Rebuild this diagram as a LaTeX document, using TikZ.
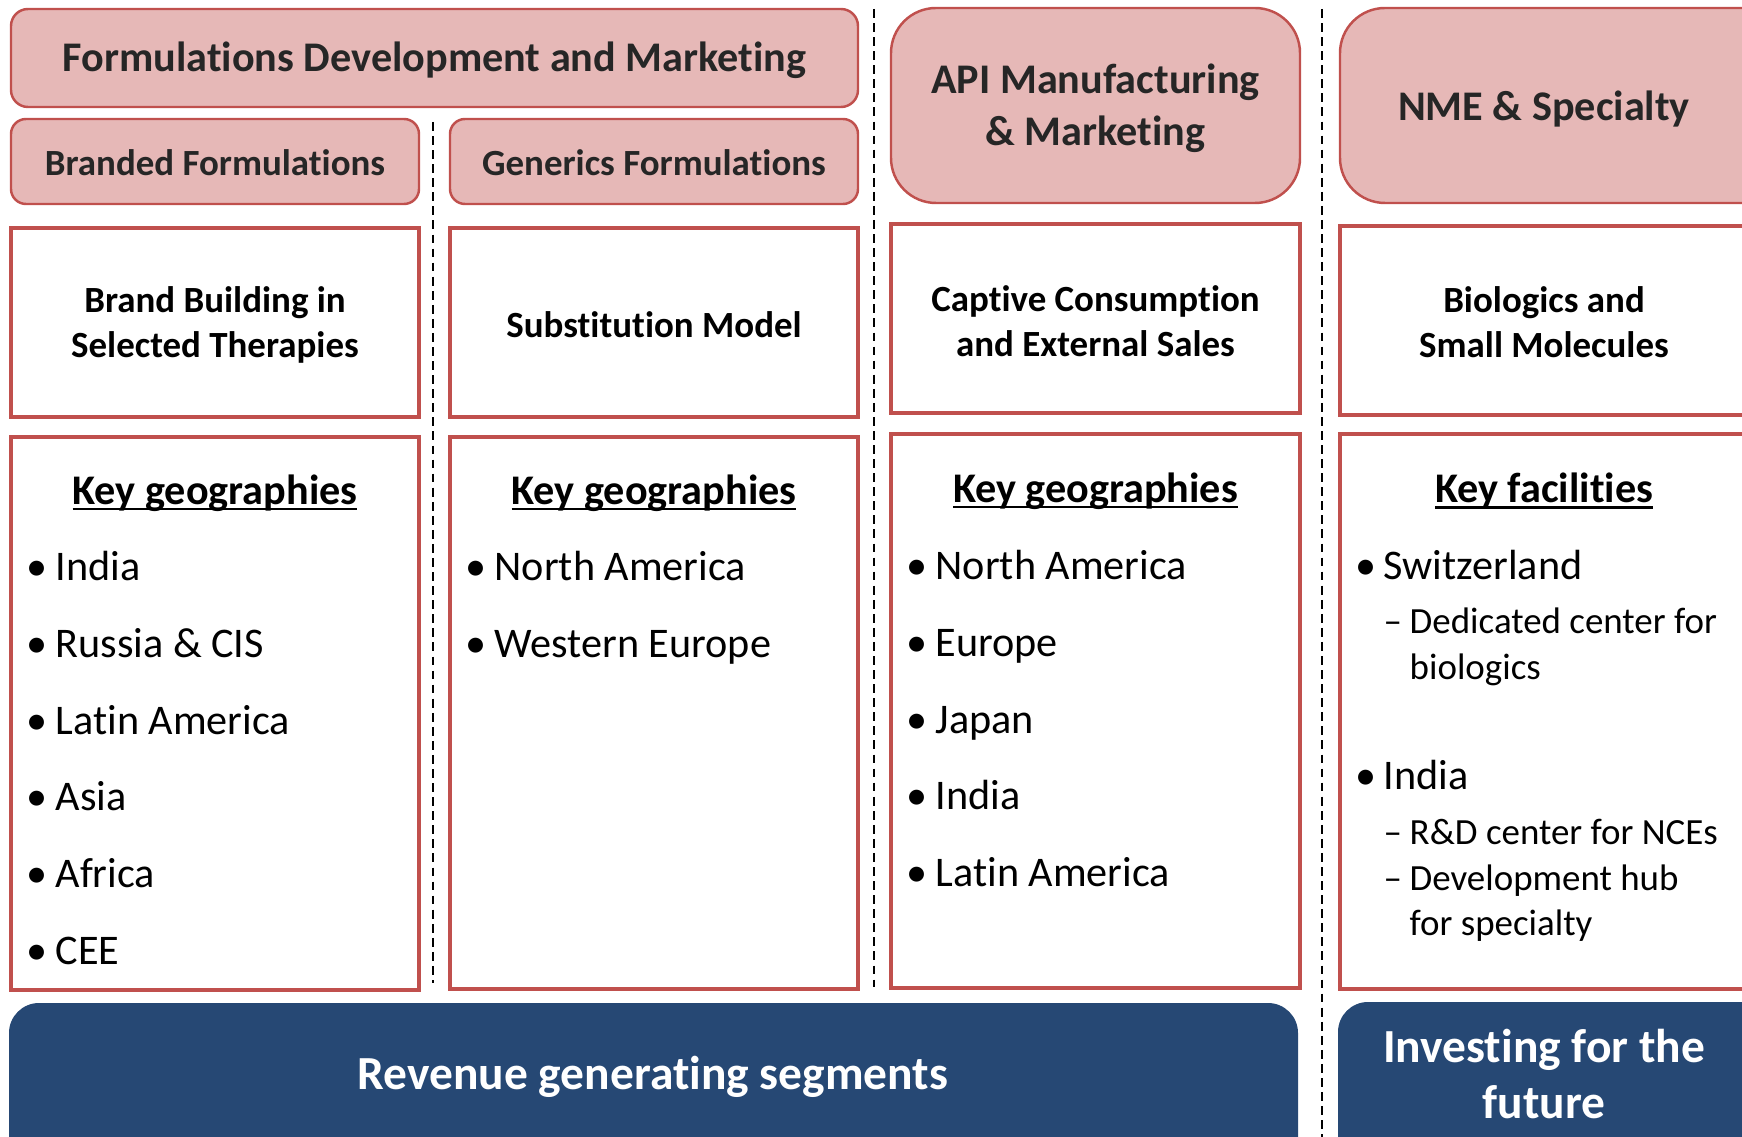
\documentclass[tikz,border=0pt]{standalone}
\usepackage{fontspec}
\setmainfont{Carlito}[Ligatures=NoCommon]

\definecolor{boxred}{RGB}{192,80,77}
\definecolor{boxpink}{RGB}{230,184,183}
\definecolor{navy}{RGB}{38,72,116}
\definecolor{darktext}{RGB}{38,38,38}

\tikzset{
  segbox/.style={draw=boxred, fill=boxpink, line width=0.7pt},
  infobox/.style={draw=boxred, line width=1.2pt},
  footbox/.style={fill=navy},
  sepline/.style={black, line width=0.5pt, dash pattern=on 2.5pt off 1.5pt},
  seglabel/.style={text=darktext, align=center, font=\bfseries\fontsize{12}{14.8}\selectfont},
  sublabel/.style={text=darktext, align=center, font=\bfseries\fontsize{10.5}{12.9}\selectfont},
  modellabel/.style={align=center, font=\bfseries\fontsize{10.5}{12.9}\selectfont},
  keyhead/.style={font=\bfseries\fontsize{12}{14}\selectfont},
  item/.style={anchor=west, inner sep=0pt, text height=7pt, text depth=0pt, font=\fontsize{12}{14}\selectfont},
  subitem/.style={anchor=west, inner sep=0pt, text height=6pt, text depth=0pt, font=\fontsize{10.5}{12.9}\selectfont},
  footlabel/.style={text=white, align=center, font=\bfseries\fontsize{13.5}{15.9}\selectfont}
}
\newcommand{\keyline}[1]{\setbox0\hbox{#1}\rlap{\rule[-1.6pt]{\wd0}{0.75pt}}\box0}

\begin{document}
\begin{tikzpicture}[x=0.01cm,y=-0.01cm]
	\useasboundingbox (0,0) rectangle (1742,1137);

	% segment headers
	\draw[segbox,rounded corners=0.17cm] (11,9) rectangle (858,107);
	\draw[segbox,rounded corners=0.15cm] (11,119) rectangle (419,204);
	\draw[segbox,rounded corners=0.15cm] (450,119) rectangle (858,204);
	\draw[segbox,rounded corners=0.45cm] (891,8) rectangle (1300,203);
	\draw[segbox,rounded corners=0.45cm] (1340,8) rectangle (1790,203);
	\node[seglabel] (fdm) at (434.5,60) {Formulations Development and Marketing};
	\node[sublabel] (branded) at (215,163) {Branded Formulations};
	\node[sublabel] (generics) at (654,163) {Generics Formulations};
	\node[seglabel] (api) at (1095.5,108) {API Manufacturing\\\& Marketing};
	\node[seglabel] (nme) at (1544,109) {NME \& Specialty};

	% business models
	\draw[infobox] (11,228) rectangle (419,417);
	\draw[infobox] (450,228) rectangle (858,417);
	\draw[infobox] (891,224) rectangle (1300,413);
	\draw[infobox] (1340,226) rectangle (1790,415);
	\node[modellabel] (brandmodel) at (215,325) {Brand Building in\\Selected Therapies};
	\node[modellabel] (genmodel) at (654,325) {Substitution Model};
	\node[modellabel] (apimodel) at (1095.5,321) {Captive Consumption\\and External Sales};
	\node[modellabel] (nmemodel) at (1544,322) {Biologics and\\Small Molecules};

	% geographies and facilities
	\draw[infobox] (11,437) rectangle (419,990);
	\draw[infobox] (450,437) rectangle (858,989);
	\draw[infobox] (891,434) rectangle (1300,988);
	\draw[infobox] (1340,434) rectangle (1790,989);
	\node[keyhead] (brandkey) at (215,493.5) {\keyline{Key geographies}};
	\node[keyhead] (genkey) at (654,493.5) {\keyline{Key geographies}};
	\node[keyhead] (apikey) at (1095.5,491.5) {\keyline{Key geographies}};
	\node[keyhead] (nmekey) at (1544,491.5) {\keyline{Key facilities}};

	\foreach \geo [count=\i] in {India, Russia \& CIS, Latin America, Asia, Africa, CEE}
		\node[item] (bg\i) at (26,{568.5+76.7*(\i-1)}) {\makebox[0.29cm][l]{\textbullet}\geo};
	\foreach \geo [count=\i] in {North America, Western Europe}
		\node[item] (gg\i) at (465,{568.5+76.7*(\i-1)}) {\makebox[0.29cm][l]{\textbullet}\geo};
	\foreach \geo [count=\i] in {North America, Europe, Japan, India, Latin America}
		\node[item] (ag\i) at (906,{567.5+76.7*(\i-1)}) {\makebox[0.29cm][l]{\textbullet}\geo};

	\node[item] (swiss) at (1355,567.5) {\makebox[0.28cm][l]{\textbullet}Switzerland};
	\node[subitem] (swiss1) at (1383,623) {\makebox[0.26cm][l]{--}Dedicated center for};
	\node[subitem] (swiss2) at (1409,668.5) {biologics};
	\node[item] (india) at (1355,777.5) {\makebox[0.28cm][l]{\textbullet}India};
	\node[subitem] (india1) at (1383,834) {\makebox[0.26cm][l]{--}R\&D center for NCEs};
	\node[subitem] (india2) at (1383,879.5) {\makebox[0.26cm][l]{--}Development hub};
	\node[subitem] (india3) at (1409,924.5) {for specialty};

	% footers
	\fill[footbox,rounded corners=0.3cm] (9,1003) rectangle (1298,1180);
	\fill[footbox,rounded corners=0.3cm] (1338,1002) rectangle (1790,1180);
	\node[footlabel] (revenue) at (653,1077) {Revenue generating segments};
	\node[footlabel] (future) at (1544,1074) {Investing for the\\future};

	% separators
	\draw[sepline] (433,122) -- (433,983);
	\draw[sepline] (874,9) -- (874,987);
	\draw[sepline] (1322,9) -- (1322,1137);
\end{tikzpicture}
\end{document}
